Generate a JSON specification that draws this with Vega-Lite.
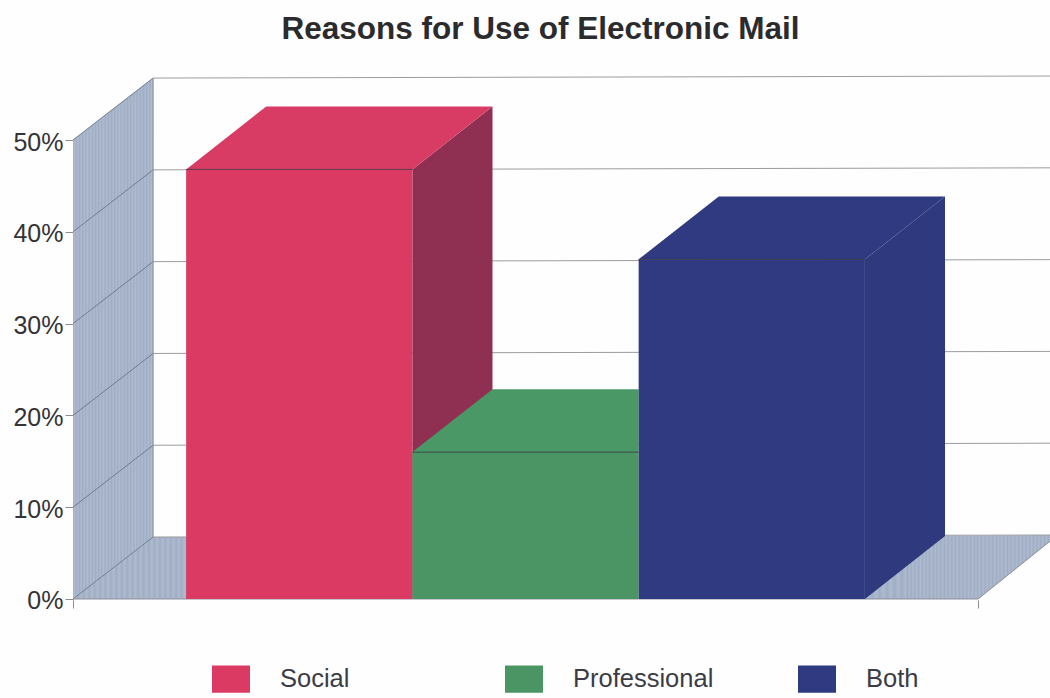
{
  "$schema": "https://vega.github.io/schema/vega-lite/v6.json",
  "width": 977,
  "height": 528,
  "autosize": {"type": "none"},
  "padding": {"left": 73, "top": 72, "right": 0, "bottom": 98},
  "background": "#fefefe",
  "title": {"text": "Reasons for Use of Electronic Mail", "font": "Liberation Sans", "fontSize": 31.5, "fontWeight": "bold", "color": "#2b2b2e", "anchor": "middle", "dx": -21, "offset": 27},
  "config": {"view": {"stroke": null}},
  "datasets": {
    "faces": [
      {"face": "Side wall", "pos": -0.5, "low": 0, "high": 50},
      {"face": "Side wall", "pos": -0.146, "low": 6.75, "high": 56.75},
      {"face": "Floor left", "pos": -0.5, "low": 0, "high": 0},
      {"face": "Floor left", "pos": -0.146, "low": 0, "high": 6.75},
      {"face": "Floor left", "pos": 0.1, "low": 0, "high": 6.76},
      {"face": "Floor right", "pos": 3, "low": 0, "high": 6.9},
      {"face": "Floor right", "pos": 3.5, "low": 0, "high": 6.93},
      {"face": "Floor right", "pos": 3.818, "low": 6.3, "high": 6.97},
      {"face": "Social side", "pos": 1, "low": 0, "high": 46.8},
      {"face": "Social side", "pos": 1.354, "low": 6.86, "high": 53.66},
      {"face": "Social top", "pos": 0, "low": 46.8, "high": 46.8},
      {"face": "Social top", "pos": 0.354, "low": 46.8, "high": 53.66},
      {"face": "Social top", "pos": 1, "low": 46.8, "high": 53.66},
      {"face": "Social top", "pos": 1.354, "low": 53.66, "high": 53.66},
      {"face": "Professional top", "pos": 1, "low": 16, "high": 16},
      {"face": "Professional top", "pos": 1.354, "low": 16, "high": 22.86},
      {"face": "Professional top", "pos": 2, "low": 16, "high": 22.86},
      {"face": "Both top", "pos": 2, "low": 37, "high": 37},
      {"face": "Both top", "pos": 2.354, "low": 37, "high": 43.86},
      {"face": "Both top", "pos": 3, "low": 37, "high": 43.86},
      {"face": "Both top", "pos": 3.354, "low": 43.86, "high": 43.86},
      {"face": "Both side", "pos": 3, "low": 0, "high": 37},
      {"face": "Both side", "pos": 3.354, "low": 6.86, "high": 43.86}
    ],
    "bars": [
      {"face": "Social", "start": 0, "end": 1, "base": 0, "share": 46.8},
      {"face": "Professional", "start": 1, "end": 2, "base": 0, "share": 16},
      {"face": "Both", "start": 2, "end": 3, "base": 0, "share": 37}
    ],
    "gridlines": [
      {"level": 0, "pos": -0.5, "v": 0}, {"level": 0, "pos": -0.146, "v": 6.75}, {"level": 0, "pos": 3.818, "v": 6.97},
      {"level": 10, "pos": -0.5, "v": 10}, {"level": 10, "pos": -0.146, "v": 16.75}, {"level": 10, "pos": 3.818, "v": 16.97},
      {"level": 20, "pos": -0.5, "v": 20}, {"level": 20, "pos": -0.146, "v": 26.75}, {"level": 20, "pos": 3.818, "v": 26.97},
      {"level": 30, "pos": -0.5, "v": 30}, {"level": 30, "pos": -0.146, "v": 36.75}, {"level": 30, "pos": 3.818, "v": 36.97},
      {"level": 40, "pos": -0.5, "v": 40}, {"level": 40, "pos": -0.146, "v": 46.75}, {"level": 40, "pos": 3.818, "v": 46.97},
      {"level": 50, "pos": -0.5, "v": 50}, {"level": 50, "pos": -0.146, "v": 56.75}, {"level": 50, "pos": 3.818, "v": 56.97}
    ],
    "edges": [
      {"edge": "wall corner", "pos": -0.146, "v": 6.75},
      {"edge": "wall corner", "pos": -0.146, "v": 56.75},
      {"edge": "front floor", "pos": -0.5, "v": 0},
      {"edge": "front floor", "pos": 3.5, "v": 0},
      {"edge": "floor side", "pos": 3.5, "v": 0},
      {"edge": "floor side", "pos": 3.818, "v": 6.3}
    ]
  },
  "layer": [
    {
      "data": {"name": "faces"},
      "transform": [{"filter": "datum.face === 'Side wall' || datum.face === 'Floor left'"}],
      "mark": {"type": "area", "interpolate": "linear", "fill": {"gradient": "linear", "x1": 0, "x2": 1, "y1": 0, "y2": 0, "stops": [
        {"offset": 0, "color": "#a0aec5"}, {"offset": 0.02, "color": "#aebacf"}, {"offset": 0.04, "color": "#a0aec5"}, {"offset": 0.06, "color": "#aebacf"}, {"offset": 0.08, "color": "#a0aec5"},
        {"offset": 0.1, "color": "#aebacf"}, {"offset": 0.12, "color": "#a0aec5"}, {"offset": 0.14, "color": "#aebacf"}, {"offset": 0.16, "color": "#a0aec5"}, {"offset": 0.18, "color": "#aebacf"},
        {"offset": 0.2, "color": "#a0aec5"}, {"offset": 0.22, "color": "#aebacf"}, {"offset": 0.24, "color": "#a0aec5"}, {"offset": 0.26, "color": "#aebacf"}, {"offset": 0.28, "color": "#a0aec5"},
        {"offset": 0.3, "color": "#aebacf"}, {"offset": 0.32, "color": "#a0aec5"}, {"offset": 0.34, "color": "#aebacf"}, {"offset": 0.36, "color": "#a0aec5"}, {"offset": 0.38, "color": "#aebacf"},
        {"offset": 0.4, "color": "#a0aec5"}, {"offset": 0.42, "color": "#aebacf"}, {"offset": 0.44, "color": "#a0aec5"}, {"offset": 0.46, "color": "#aebacf"}, {"offset": 0.48, "color": "#a0aec5"},
        {"offset": 0.5, "color": "#aebacf"}, {"offset": 0.52, "color": "#a0aec5"}, {"offset": 0.54, "color": "#aebacf"}, {"offset": 0.56, "color": "#a0aec5"}, {"offset": 0.58, "color": "#aebacf"},
        {"offset": 0.6, "color": "#a0aec5"}, {"offset": 0.62, "color": "#aebacf"}, {"offset": 0.64, "color": "#a0aec5"}, {"offset": 0.66, "color": "#aebacf"}, {"offset": 0.68, "color": "#a0aec5"},
        {"offset": 0.7, "color": "#aebacf"}, {"offset": 0.72, "color": "#a0aec5"}, {"offset": 0.74, "color": "#aebacf"}, {"offset": 0.76, "color": "#a0aec5"}, {"offset": 0.78, "color": "#aebacf"},
        {"offset": 0.8, "color": "#a0aec5"}, {"offset": 0.82, "color": "#aebacf"}, {"offset": 0.84, "color": "#a0aec5"}, {"offset": 0.86, "color": "#aebacf"}, {"offset": 0.88, "color": "#a0aec5"},
        {"offset": 0.9, "color": "#aebacf"}, {"offset": 0.92, "color": "#a0aec5"}, {"offset": 0.94, "color": "#aebacf"}, {"offset": 0.96, "color": "#a0aec5"}, {"offset": 0.98, "color": "#aebacf"},
        {"offset": 1, "color": "#a0aec5"}
      ]}},
      "encoding": {
        "x": {"field": "pos", "type": "quantitative", "scale": {"domain": [-0.5, 3.818], "nice": false, "zero": false},
          "axis": {"title": null, "values": [-0.5, 3.5], "labels": false, "grid": false, "domain": false, "tickSize": 8, "tickColor": "#8c8c90", "tickWidth": 1}},
        "y": {"field": "high", "type": "quantitative", "scale": {"domain": [-0.11, 57.41], "nice": false, "zero": false},
          "axis": {"title": null, "values": [0, 10, 20, 30, 40, 50], "labelExpr": "datum.value + '%'", "labelFont": "Liberation Sans", "labelFontSize": 25, "labelColor": "#333338", "labelPadding": 2, "labelOffset": 2, "grid": false, "domain": false, "tickSize": 8, "tickColor": "#8c8c90", "tickWidth": 1}},
        "y2": {"field": "low"},
        "detail": {"field": "face"}
      }
    },
    {
      "data": {"name": "faces"},
      "transform": [{"filter": "datum.face === 'Floor right'"}],
      "mark": {"type": "area", "interpolate": "linear", "fill": {"gradient": "linear", "x1": 0, "x2": 1, "y1": 0, "y2": 0, "stops": [
        {"offset": 0, "color": "#a0aec5"}, {"offset": 0.02, "color": "#aebacf"}, {"offset": 0.04, "color": "#a0aec5"}, {"offset": 0.06, "color": "#aebacf"}, {"offset": 0.08, "color": "#a0aec5"},
        {"offset": 0.1, "color": "#aebacf"}, {"offset": 0.12, "color": "#a0aec5"}, {"offset": 0.14, "color": "#aebacf"}, {"offset": 0.16, "color": "#a0aec5"}, {"offset": 0.18, "color": "#aebacf"},
        {"offset": 0.2, "color": "#a0aec5"}, {"offset": 0.22, "color": "#aebacf"}, {"offset": 0.23, "color": "#a0aec5"}, {"offset": 0.24, "color": "#aebacf"}, {"offset": 0.25, "color": "#a0aec5"},
        {"offset": 0.26, "color": "#aebacf"}, {"offset": 0.27, "color": "#a0aec5"}, {"offset": 0.28, "color": "#aebacf"}, {"offset": 0.29, "color": "#a0aec5"}, {"offset": 0.3, "color": "#aebacf"},
        {"offset": 0.31, "color": "#a0aec5"}, {"offset": 0.32, "color": "#aebacf"}, {"offset": 0.33, "color": "#a0aec5"}, {"offset": 0.34, "color": "#aebacf"}, {"offset": 0.35, "color": "#a0aec5"},
        {"offset": 0.36, "color": "#aebacf"}, {"offset": 0.37, "color": "#a0aec5"}, {"offset": 0.38, "color": "#aebacf"}, {"offset": 0.39, "color": "#a0aec5"}, {"offset": 0.4, "color": "#aebacf"},
        {"offset": 0.41, "color": "#a0aec5"}, {"offset": 0.42, "color": "#aebacf"}, {"offset": 0.43, "color": "#a0aec5"}, {"offset": 0.44, "color": "#aebacf"}, {"offset": 0.45, "color": "#a0aec5"},
        {"offset": 0.46, "color": "#aebacf"}, {"offset": 0.47, "color": "#a0aec5"}, {"offset": 0.48, "color": "#aebacf"}, {"offset": 0.49, "color": "#a0aec5"}, {"offset": 0.5, "color": "#aebacf"},
        {"offset": 0.51, "color": "#a0aec5"}, {"offset": 0.52, "color": "#aebacf"}, {"offset": 0.53, "color": "#a0aec5"}, {"offset": 0.54, "color": "#aebacf"}, {"offset": 0.55, "color": "#a0aec5"},
        {"offset": 0.56, "color": "#aebacf"}, {"offset": 0.57, "color": "#a0aec5"}, {"offset": 0.58, "color": "#aebacf"}, {"offset": 0.59, "color": "#a0aec5"}, {"offset": 0.6, "color": "#aebacf"},
        {"offset": 0.61, "color": "#a0aec5"}, {"offset": 0.62, "color": "#aebacf"}, {"offset": 0.63, "color": "#a0aec5"}, {"offset": 0.64, "color": "#aebacf"}, {"offset": 0.65, "color": "#a0aec5"},
        {"offset": 0.66, "color": "#aebacf"}, {"offset": 0.67, "color": "#a0aec5"}, {"offset": 0.68, "color": "#aebacf"}, {"offset": 0.69, "color": "#a0aec5"}, {"offset": 0.7, "color": "#aebacf"},
        {"offset": 0.71, "color": "#a0aec5"}, {"offset": 0.72, "color": "#aebacf"}, {"offset": 0.73, "color": "#a0aec5"}, {"offset": 0.74, "color": "#aebacf"}, {"offset": 0.75, "color": "#a0aec5"},
        {"offset": 0.76, "color": "#aebacf"}, {"offset": 0.77, "color": "#a0aec5"}, {"offset": 0.78, "color": "#aebacf"}, {"offset": 0.79, "color": "#a0aec5"}, {"offset": 0.8, "color": "#aebacf"},
        {"offset": 0.81, "color": "#a0aec5"}, {"offset": 0.82, "color": "#aebacf"}, {"offset": 0.83, "color": "#a0aec5"}, {"offset": 0.84, "color": "#aebacf"}, {"offset": 0.85, "color": "#a0aec5"},
        {"offset": 0.86, "color": "#aebacf"}, {"offset": 0.87, "color": "#a0aec5"}, {"offset": 0.88, "color": "#aebacf"}, {"offset": 0.89, "color": "#a0aec5"}, {"offset": 0.9, "color": "#aebacf"},
        {"offset": 0.91, "color": "#a0aec5"}, {"offset": 0.92, "color": "#aebacf"}, {"offset": 0.93, "color": "#a0aec5"}, {"offset": 0.94, "color": "#aebacf"}, {"offset": 0.95, "color": "#a0aec5"},
        {"offset": 0.96, "color": "#aebacf"}, {"offset": 0.97, "color": "#a0aec5"}, {"offset": 0.98, "color": "#aebacf"}, {"offset": 0.99, "color": "#a0aec5"}, {"offset": 1, "color": "#aebacf"}
      ]}},
      "encoding": {
        "x": {"field": "pos", "type": "quantitative"},
        "y": {"field": "high", "type": "quantitative"},
        "y2": {"field": "low"}
      }
    },
    {
      "data": {"name": "gridlines"},
      "transform": [{"filter": "datum.pos <= -0.146"}],
      "mark": {"type": "line", "color": "#6f7c92", "strokeWidth": 1},
      "encoding": {
        "x": {"field": "pos", "type": "quantitative"},
        "y": {"field": "v", "type": "quantitative"},
        "detail": {"field": "level"}
      }
    },
    {
      "data": {"name": "gridlines"},
      "transform": [{"filter": "datum.pos >= -0.146"}],
      "mark": {"type": "line", "color": "#9a9ca0", "strokeWidth": 1},
      "encoding": {
        "x": {"field": "pos", "type": "quantitative"},
        "y": {"field": "v", "type": "quantitative"},
        "detail": {"field": "level"}
      }
    },
    {
      "data": {"name": "edges"},
      "mark": {"type": "line", "color": "#8a8f98", "strokeWidth": 1},
      "encoding": {
        "x": {"field": "pos", "type": "quantitative"},
        "y": {"field": "v", "type": "quantitative"},
        "detail": {"field": "edge"}
      }
    },
    {
      "data": {"name": "faces"},
      "transform": [{"filter": "indexof(['Side wall', 'Floor left', 'Floor right'], datum.face) < 0"}],
      "mark": {"type": "area", "interpolate": "linear"},
      "encoding": {
        "x": {"field": "pos", "type": "quantitative"},
        "y": {"field": "high", "type": "quantitative"},
        "y2": {"field": "low"},
        "color": {"field": "face", "type": "nominal",
          "scale": {"domain": ["Social", "Professional", "Both", "Social side", "Social top", "Professional top", "Both top", "Both side"],
            "range": ["#db3b63", "#4b9565", "#2f3a80", "#8f3052", "#d83c64", "#4a9866", "#2f3a80", "#2e3a7d"]},
          "legend": {"values": ["Social", "Professional", "Both"], "orient": "none", "legendX": 139, "legendY": 588, "direction": "horizontal", "columns": 3, "gridAlign": "all", "title": null, "symbolType": "M-1,-0.72H1V0.72H-1Z", "symbolSize": 1444, "symbolStrokeWidth": 0, "labelFont": "Liberation Sans", "labelFontSize": 25.5, "labelColor": "#3c3c46", "labelOffset": 30, "columnPadding": 84, "padding": 0, "symbolOffset": 0, "labelLimit": 300}}
      }
    },
    {
      "data": {"name": "bars"},
      "mark": {"type": "rect"},
      "encoding": {
        "x": {"field": "start", "type": "quantitative"},
        "x2": {"field": "end"},
        "y": {"field": "share", "type": "quantitative"},
        "y2": {"field": "base"},
        "color": {"field": "face", "type": "nominal"}
      }
    },
    {
      "data": {"name": "bars"},
      "mark": {"type": "rule", "color": "#3a3040", "strokeWidth": 1, "opacity": 0.75},
      "encoding": {
        "x": {"field": "start", "type": "quantitative"},
        "x2": {"field": "end"},
        "y": {"field": "share", "type": "quantitative"}
      }
    }
  ]
}
